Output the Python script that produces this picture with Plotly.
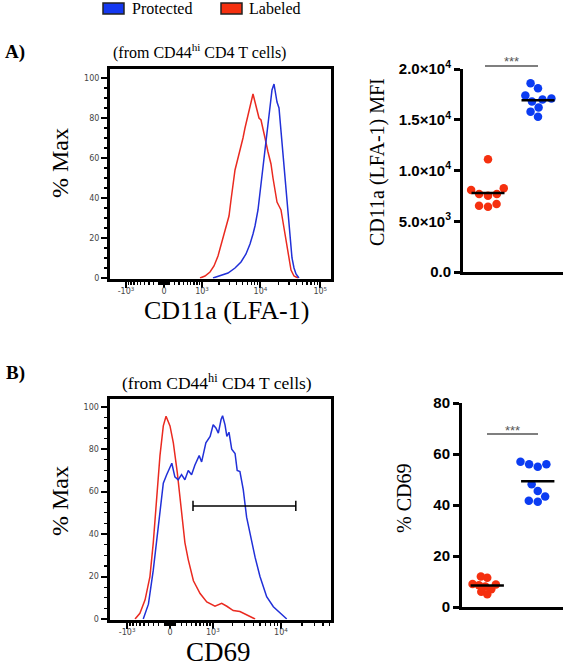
import numpy as np
import plotly.graph_objects as go

W, H = 566, 667

# ---------------- data ----------------
# Histograms: x in arcsinh-transformed channel units, y in % of max
cof_a = 490.0
a_red_u = [1.385, 1.577, 1.769, 1.923, 2.077, 2.231, 2.346, 2.423, 2.5, 2.577, 2.654, 2.731, 2.808, 2.885,
           2.962, 3.038, 3.115, 3.192, 3.269, 3.346, 3.423, 3.5, 3.577, 3.654, 3.731, 3.808, 3.885, 4.0,
           4.115, 4.192, 4.269, 4.346, 4.423, 4.5, 4.577, 4.654, 4.731, 4.808, 4.885, 5.0, 5.154]
a_red_pct = [0, 1, 3, 6, 11, 18, 24, 27, 31, 39, 47, 54, 58, 62, 65, 70, 75, 79, 84, 87, 92, 88, 84, 80,
             79, 75, 70, 63, 57, 50, 44, 38, 36, 34, 28, 22, 14, 8, 4, 1, 0]
a_blue_u = [1.885, 2.154, 2.462, 2.731, 2.962, 3.154, 3.308, 3.423, 3.5, 3.615, 3.692, 3.769, 3.846, 3.923,
            4.0, 4.077, 4.154, 4.231, 4.288, 4.346, 4.423, 4.5, 4.577, 4.654, 4.731, 4.788, 4.846, 4.923,
            5.0, 5.077, 5.192]
a_blue_pct = [0, 1, 2.5, 5, 8, 12, 17, 22, 26, 34, 43, 50, 59, 68, 79, 88, 94, 97, 92, 88, 85, 73, 60, 49,
              36, 27, 19, 10, 5, 2, 0]
a_major = [-1000, 0, 1000, 10000, 100000]
a_major_text = ["-10<sup>3</sup>", "0", "10<sup>3</sup>", "10<sup>4</sup>", "10<sup>5</sup>"]

cof_b = 520.0
b_red_u = [-1.15, -0.99, -0.82, -0.66, -0.55, -0.44, -0.33, -0.22, -0.13, 0.0, 0.11, 0.24, 0.33, 0.42,
           0.49, 0.60, 0.77, 0.99, 1.21, 1.48, 1.70, 1.87, 2.08, 2.30, 2.52, 2.80]
b_red_pct = [0, 2.7, 9, 20, 36, 56, 77, 91, 95.5, 91, 83, 69, 58, 45, 36, 28, 18, 12, 8, 6, 7.4, 6, 4,
             3.5, 2, 0]
b_blue_u = [-0.88, -0.71, -0.55, -0.38, -0.22, -0.11, 0.06, 0.16, 0.27, 0.38, 0.49, 0.60, 0.71, 0.82,
            0.96, 1.04, 1.18, 1.32, 1.42, 1.51, 1.59, 1.68, 1.73, 1.81, 1.87, 1.94, 2.03, 2.14, 2.21,
            2.30, 2.41, 2.52, 2.63, 2.80, 2.96, 3.18, 3.40, 3.63, 3.84]
b_blue_pct = [0, 7, 23, 45, 64, 68, 73.4, 67, 65.6, 68, 65.6, 70, 68, 72.6, 77, 74, 83, 86, 91.5, 90,
              87.6, 94, 95.8, 91.5, 86, 88, 80, 78, 70, 69.5, 61, 48, 40, 29, 20, 10.5, 5.8, 2.7, 0]
b_major = [-1000, 0, 1000, 10000]
b_major_text = ["-10<sup>3</sup>", "0", "10<sup>3</sup>", "10<sup>4</sup>"]
b_gate = [432, 16300]     # CD69+ gate (fluorescence)
b_gate_pct = 53.3

# Dot plots
groups = ["Labeled", "Protected"]
a_mfi_labeled = [11100, 8250, 7680, 7680, 7520, 8080, 6700, 6430, 6530]
a_mfi_protected = [18600, 18100, 17400, 17000, 16800, 17100, 16200, 15800, 15300]
a_ticks = [0, 5000, 10000, 15000, 20000]
a_ticks_text = ["0.0", "5.0×10<sup>3</sup>", "1.0×10<sup>4</sup>", "1.5×10<sup>4</sup>", "2.0×10<sup>4</sup>"]
b_cd69_labeled = [12.0, 11.5, 9.0, 8.8, 8.5, 8.0, 7.0, 6.0, 5.0]
b_cd69_protected = [56.0, 55.0, 56.0, 57.0, 48.1, 45.5, 43.3, 41.3, 41.7]
b_ticks = [0, 20, 40, 60, 80]

RED_LINE = "#ea2a20"
BLUE_LINE = "#2130d8"
RED_DOT = "#f5300f"
BLUE_DOT = "#0b3cf2"
SERIF = "Liberation Serif"
SANS = "Liberation Sans"


def pxx(x):
    return x / W


def pxy(y):
    return 1 - y / H


def minor_vals(cof):
    vals = []
    for k in range(1, 6):
        for m in range(1, 10):
            if m == 1 and k >= 3:
                continue
            v = m * 10 ** k
            vals += [v, -v]
    return list(np.arcsinh(np.array(vals, float) / cof))


def beeswarm(vals, ypx_per_unit, xpx_per_unit, d=9.0):
    vals = np.asarray(vals, float)
    order = np.argsort(vals, kind="stable")
    placed = []
    off = np.zeros(len(vals))
    for i in order:
        y = vals[i] * ypx_per_unit
        cands = [0.0]
        for (qx, qy) in placed:
            dy = y - qy
            if abs(dy) < d:
                dx = np.sqrt(d * d - dy * dy)
                cands += [qx + dx, qx - dx]
        cands.sort(key=lambda c: (abs(c), c))
        for c in cands:
            if all((c - qx) ** 2 + (y - qy) ** 2 >= d * d - 1e-6 for qx, qy in placed):
                off[i] = c
                placed.append((c, y))
                break
    return off / xpx_per_unit


fig = go.Figure()

# ---- histogram A ----
fig.add_trace(go.Scatter(x=a_red_u, y=a_red_pct, mode="lines", line=dict(color=RED_LINE, width=1.5),
                         xaxis="x", yaxis="y", showlegend=False))
fig.add_trace(go.Scatter(x=a_blue_u, y=a_blue_pct, mode="lines", line=dict(color=BLUE_LINE, width=1.5),
                         xaxis="x", yaxis="y", showlegend=False))
# ---- histogram B ----
fig.add_trace(go.Scatter(x=b_red_u, y=b_red_pct, mode="lines", line=dict(color=RED_LINE, width=1.5),
                         xaxis="x3", yaxis="y3", showlegend=False))
fig.add_trace(go.Scatter(x=b_blue_u, y=b_blue_pct, mode="lines", line=dict(color=BLUE_LINE, width=1.5),
                         xaxis="x3", yaxis="y3", showlegend=False))

# ---- dot plots ----
dotA_dom = (463, 563, 69, 272)
dotB_dom = (462, 563, 403, 607)


def add_dots(lab, prot, xa, ya, ypx_per_unit, xpx_per_unit, d_lab=9.0, d_prot=9.0):
    for gi, (vals, col, d) in enumerate([(lab, RED_DOT, d_lab), (prot, BLUE_DOT, d_prot)]):
        off = beeswarm(vals, ypx_per_unit, xpx_per_unit, d)
        fig.add_trace(go.Scatter(x=gi + off, y=vals, mode="markers",
                                 marker=dict(color=col, size=8.5, line=dict(width=0)),
                                 xaxis=xa, yaxis=ya, showlegend=False, cliponaxis=False))
    for gi, vals in enumerate([lab, prot]):
        m = float(np.mean(vals))
        fig.add_trace(go.Scatter(x=[gi - 0.33, gi + 0.33], y=[m, m], mode="lines",
                                 line=dict(color="black", width=2.5),
                                 xaxis=xa, yaxis=ya, showlegend=False))


add_dots(a_mfi_labeled, a_mfi_protected, "x2", "y2", (272 - 69) / 20000, 100 / 2.0)
add_dots(b_cd69_labeled, b_cd69_protected, "x4", "y4", (607 - 403) / 80, 101 / 2.0, d_lab=6.5)

# ---- axes ----
hist_tickfont = dict(family="DejaVu Sans", size=8, color="#444")


def hist_axes(xdom, ydom, xr, yr, major, major_text, cof):
    xa = dict(domain=[pxx(xdom[0]), pxx(xdom[1])], range=xr, automargin=False,
              tickmode="array", tickvals=list(np.arcsinh(np.array(major, float) / cof)),
              ticktext=major_text, ticks="outside", ticklen=6, tickwidth=2, tickcolor="black",
              tickfont=hist_tickfont, showline=True, linewidth=3, linecolor="black", mirror=True,
              showgrid=False, zeroline=False, ticklabelstandoff=-3,
              minor=dict(tickmode="array", tickvals=minor_vals(cof), ticks="outside",
                         ticklen=3, tickwidth=1.2, tickcolor="black", showgrid=False))
    ya = dict(domain=[pxy(ydom[1]), pxy(ydom[0])], range=yr, automargin=False,
              tickmode="array", tickvals=[0, 20, 40, 60, 80, 100], ticks="outside", ticklen=6,
              tickwidth=2, tickcolor="black", tickfont=hist_tickfont, showline=True, linewidth=3,
              linecolor="black", mirror=True, showgrid=False, zeroline=False,
              minor=dict(dtick=5, ticks="outside", ticklen=3, tickwidth=1.2, tickcolor="black",
                         showgrid=False))
    return xa, ya


xa1, ya1 = hist_axes((110, 331), (69, 278.5), [(110 - 164) / 26, (331 - 164) / 26], [-0.25, 104.5],
                     a_major, a_major_text, cof_a)
xa3, ya3 = hist_axes((109.5, 331), (398.5, 619.5), [(109.5 - 170) / 30.4, (331 - 170) / 30.4],
                     [-0.24, 103.9], b_major, b_major_text, cof_b)
xa1["anchor"] = "y"
ya1["anchor"] = "x"
xa3["anchor"] = "y3"
ya3["anchor"] = "x3"

dot_tickfont = dict(family=SANS, size=15, color="black", weight="bold")


def dot_axes(dom, yr, tv, tt, anchor_x, anchor_y):
    x0, x1, y0, y1 = dom
    xa = dict(domain=[pxx(x0), pxx(x1)], range=[-0.5, 1.5], showticklabels=False, ticks="",
              showline=True, linewidth=3, linecolor="black", showgrid=False, zeroline=False,
              anchor=anchor_y, automargin=False)
    ya = dict(domain=[pxy(y1), pxy(y0)], range=yr, tickmode="array", tickvals=tv, ticktext=tt,
              ticks="outside", ticklen=6, tickwidth=3, tickcolor="black", tickfont=dot_tickfont,
              showline=True, linewidth=3, linecolor="black", showgrid=False, zeroline=False,
              anchor=anchor_x, automargin=False)
    return xa, ya


xa2, ya2 = dot_axes(dotA_dom, [0, 20000], a_ticks, a_ticks_text, "x2", "y2")
xa4, ya4 = dot_axes(dotB_dom, [0, 80], b_ticks, [str(t) for t in b_ticks], "x4", "y4")

shapes = []
# gate bar in histogram B
g0, g1 = [float(np.arcsinh(g / cof_b)) for g in b_gate]
shapes.append(dict(type="line", xref="x3", yref="y3", x0=g0, x1=g1, y0=b_gate_pct, y1=b_gate_pct,
                   line=dict(color="black", width=1.5)))
for gx in (g0, g1):
    shapes.append(dict(type="line", xref="x3", yref="y3", x0=gx, x1=gx, y0=b_gate_pct - 2.4,
                       y1=b_gate_pct + 2.4, line=dict(color="black", width=1.5)))
# significance brackets
for (xl, xr_, yy) in [(485, 538, 66), (487, 538, 434)]:
    shapes.append(dict(type="line", xref="paper", yref="paper", x0=pxx(xl), x1=pxx(xr_),
                       y0=pxy(yy), y1=pxy(yy), line=dict(color="#555", width=1.5)))
# legend boxes
for (x0, x1, col) in [(103, 124, "#1438f0"), (221, 242, "#f5300f")]:
    shapes.append(dict(type="rect", xref="paper", yref="paper", x0=pxx(x0), x1=pxx(x1),
                       y0=pxy(14), y1=pxy(3), fillcolor=col, line=dict(color="#222", width=1.5)))

ann = []


def text(x, y, s, size, family=SERIF, xanchor="center", yanchor="middle", angle=0, color="black",
         weight="normal"):
    ann.append(dict(x=pxx(x), y=pxy(y), xref="paper", yref="paper", text=s, showarrow=False,
                    xanchor=xanchor, yanchor=yanchor, textangle=angle,
                    font=dict(family=family, size=size, color=color, weight=weight)))


text(130, 9, "Protected", 16, xanchor="left")
text(247, 9, "Labeled", 16, xanchor="left")
text(15, 52, "A)", 19, weight="bold")
text(15, 373, "B)", 19, weight="bold")
text(199, 51, "(from CD44<sup>hi</sup> CD4 T cells)", 16)
text(217, 382, "(from CD44<sup>hi</sup> CD4 T cells)", 17.5)
text(60, 163, "% Max", 24, angle=-90)
text(60, 501, "% Max", 24, angle=-90)
text(226, 310, "CD11a (LFA-1)", 26)
text(218, 652, "CD69", 27)
text(377, 162, "CD11a (LFA-1) MFI", 20, angle=-90)
text(404, 499, "% CD69", 20, angle=-90)
text(511, 61, "***", 13, family=SANS, color="#555")
text(512, 430, "***", 13, family=SANS, color="#555")

fig.update_layout(width=W, height=H, margin=dict(l=0, r=0, t=0, b=0, pad=0, autoexpand=False),
                  paper_bgcolor="white", plot_bgcolor="white", showlegend=False,
                  xaxis=xa1, yaxis=ya1, xaxis2=xa2, yaxis2=ya2, xaxis3=xa3, yaxis3=ya3,
                  xaxis4=xa4, yaxis4=ya4, shapes=shapes, annotations=ann)

fig.write_html("out.html", config={"displayModeBar": False, "staticPlot": True},
               post_script="document.body.style.margin='0';document.body.style.padding='0';"
                           "document.body.style.overflow='hidden';")
